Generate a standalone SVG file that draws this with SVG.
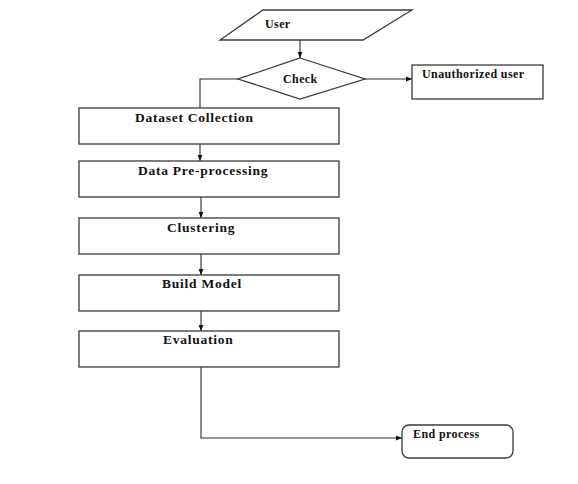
<svg xmlns="http://www.w3.org/2000/svg" width="578" height="484" viewBox="0 0 578 484">
<style>
.s{fill:#fff;stroke:#3a3a3a;stroke-width:1.3}
.c{fill:none;stroke:#2a2a2a;stroke-width:1.1}
text{font-family:"Liberation Serif","Times New Roman",serif;font-weight:bold;font-size:12px;letter-spacing:0.4px;fill:#111}
.b{font-size:13.5px;letter-spacing:0.75px}
</style>
<defs>
<marker id="a" viewBox="0 0 10 10" refX="10" refY="5" markerWidth="6" markerHeight="6" markerUnits="userSpaceOnUse" orient="auto">
<path d="M0,1 L10,5 L0,9 Z" fill="#111"/>
</marker>
</defs>
<rect width="578" height="484" fill="#fff"/>
<g id="connectors">
<line class="c" x1="300" y1="40" x2="300" y2="58" marker-end="url(#a)"/>
<line class="c" x1="365" y1="79" x2="412" y2="79" marker-end="url(#a)"/>
<polyline class="c" points="238,79 200,79 200,108"/>
<line class="c" x1="200" y1="144" x2="200" y2="161" marker-end="url(#a)"/>
<line class="c" x1="201" y1="197" x2="201" y2="218" marker-end="url(#a)"/>
<line class="c" x1="201" y1="254" x2="201" y2="275" marker-end="url(#a)"/>
<line class="c" x1="201" y1="311" x2="201" y2="331" marker-end="url(#a)"/>
<polyline class="c" points="201,367 201,438 402,438" marker-end="url(#a)"/>
</g>
<g id="user">
<polygon class="s" points="263,10 412,10 363,40 220,40"/>
<text x="265" y="28">User</text>
</g>
<g id="check">
<polygon class="s" points="300,58 365,79 300,99 238,79"/>
<text x="283" y="83">Check</text>
</g>
<g id="unauthorized">
<rect class="s" x="412" y="65" width="131" height="34"/>
<text x="422" y="78">Unauthorized user</text>
</g>
<g id="dataset">
<rect class="s" x="79" y="108" width="260" height="36"/>
<text class="b" x="135" y="122">Dataset Collection</text>
</g>
<g id="preprocessing">
<rect class="s" x="79" y="161" width="260" height="36"/>
<text class="b" x="138" y="175">Data Pre-processing</text>
</g>
<g id="clustering">
<rect class="s" x="79" y="218" width="260" height="36"/>
<text class="b" x="167" y="232">Clustering</text>
</g>
<g id="build">
<rect class="s" x="79" y="275" width="260" height="36"/>
<text class="b" x="162" y="288">Build Model</text>
</g>
<g id="evaluation">
<rect class="s" x="79" y="331" width="260" height="36"/>
<text class="b" x="163" y="344">Evaluation</text>
</g>
<g id="end">
<rect class="s" x="402" y="425" width="111" height="33" rx="7"/>
<text x="413" y="438">End process</text>
</g>
</svg>
